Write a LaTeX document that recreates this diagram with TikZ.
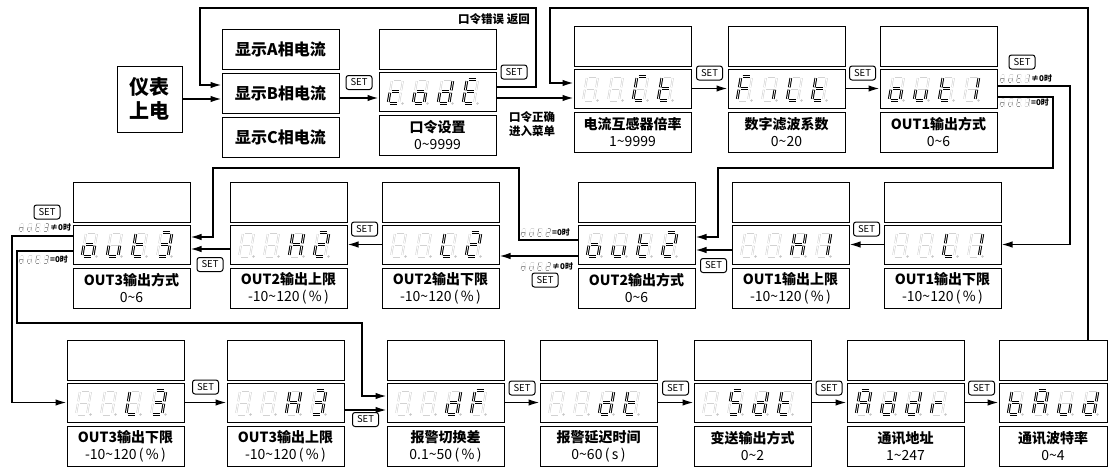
\documentclass[tikz,border=0pt]{standalone}
\usepackage{fontspec}
\setmainfont{Noto Sans CJK SC}
\usetikzlibrary{arrows.meta,positioning}

% seven segment pieces, origin at the lower left corner of a digit
\def\sega{(1.6,-24)--(9.4,-24)}
\def\segb{(11,-22.4)--(11,-13.2)}
\def\segc{(11,-10.8)--(11,-1.6)}
\def\segd{(1.6,0)--(9.4,0)}
\def\sege{(0,-10.8)--(0,-1.6)}
\def\segf{(0,-22.4)--(0,-13.2)}
\def\segg{(1.6,-12)--(9.4,-12)}
\def\segx{}

\newcommand\segdisp[3][1]{%
  \begin{scope}[shift={#2}, scale=#1]
    \foreach \segs [count=\k] in {#3} {
      \begin{scope}[shift={({(\k-1)*25},0)}, xslant=0.17]
        \foreach \s in {a,b,c,d,e,f,g}
          {\edef\tmp{\noexpand\draw[segoff] \csname seg\s\endcsname;}\tmp}
        \foreach \s in \segs
          {\edef\tmp{\noexpand\draw[segon] \csname seg\s\endcsname;}\tmp}
        \fill[segdot] (14.5,0) circle (1.3);
      \end{scope}
    }
  \end{scope}}

% one menu item: empty box, display, name and range
\newcommand\menuunit[7][117]{%
  \node[topbox, minimum width=#1pt] (#2-t) at (#3+#1/2,#4+20) {};
  \node[dispbox, minimum width=#1pt] (#2) at (#3+#1/2,#4+62.5) {};
  \node[namebox, minimum width=#1pt] (#2-b) at (#3+#1/2,#4+106) {#6\\{\mdseries #7}};
  \segdisp{(#3+9,#4+74.5)}{#5}}

\begin{document}
\begin{tikzpicture}[
    x=1pt, y=-1pt,
    box/.style={draw, line width=1pt, inner sep=0pt, minimum width=117pt},
    topbox/.style={box, minimum height=40pt},
    dispbox/.style={box, minimum height=39pt},
    namebox/.style={box, minimum height=40pt, align=center,
        font=\fontsize{14}{17}\selectfont\bfseries},
    showbox/.style={box, minimum height=40pt,
        font=\fontsize{16}{18}\selectfont\bfseries},
    segoff/.style={draw=gray!35, line width=0.6pt, double=white, double distance=0.8pt},
    segon/.style={draw=black, line width=1pt, double=white, double distance=0.7pt},
    segdot/.style={fill=gray!45},
    tinyseg/.style={
        segoff/.style={draw=gray!30, line width=0.3pt},
        segon/.style={draw=gray!85, line width=0.7pt},
        segdot/.style={fill=gray!50}},
    setlbl/.style={draw, rounded corners=2.5pt, line width=1pt, inner sep=1pt,
        minimum width=26pt, minimum height=14pt, font=\fontsize{9.5}{10}\selectfont},
    cond/.style={font=\fontsize{8}{9}\selectfont\bfseries, inner sep=0pt, anchor=west},
    note/.style={font=\fontsize{11.5}{14}\selectfont\bfseries, align=center, inner sep=0pt},
    arr/.style={-{Latex[length=11pt,width=6.5pt]}, line width=1.5pt}
]
    \useasboundingbox (0,0) rectangle (1109,467);

    % start
    \node[box, minimum width=65pt, minimum height=66pt, align=center,
        font=\fontsize{20}{24}\selectfont\bfseries] (power) at (149.5,99) {仪表\\上电};
    \node[showbox] (showA) at (280.5,49) {显示A相电流};
    \node[showbox, below=3pt of showA] (showB) {显示B相电流};
    \node[showbox, below=3pt of showB] (showC) {显示C相电流};

    % first row
    \menuunit{code}{379}{29}{{d,e,g},{c,d,e,g},{b,c,d,e,g},{a,d,e,f,g}}
        {口令设置}{0\textasciitilde9999}
    \menuunit{CT}{574}{26}{x,x,{a,d,e,f},{d,e,f,g}}
        {电流互感器倍率}{1\textasciitilde9999}
    \menuunit{FILT}{728}{26}{{a,e,f,g},c,{d,e,f},{d,e,f,g}}
        {数字滤波系数}{0\textasciitilde20}
    \menuunit{out1}{880}{26}{{c,d,e,g},{c,d,e},{d,e,f,g},{b,c}}
        {OUT1输出方式}{0\textasciitilde6}

    % second row
    \menuunit{out3}{73}{182}{{c,d,e,g},{c,d,e},{d,e,f,g},{a,b,c,d,g}}
        {OUT3输出方式}{0\textasciitilde6}
    \menuunit{H2}{230}{182}{x,x,{b,c,e,f,g},{a,b,d,e,g}}
        {OUT2输出上限}{-10\textasciitilde120\,(\,\%\,)}
    \menuunit{L2}{382}{182}{x,x,{d,e,f},{a,b,d,e,g}}
        {OUT2输出下限}{-10\textasciitilde120\,(\,\%\,)}
    \menuunit{out2}{578}{182}{{c,d,e,g},{c,d,e},{d,e,f,g},{a,b,d,e,g}}
        {OUT2输出方式}{0\textasciitilde6}
    \menuunit{H1}{732}{182}{x,x,{b,c,e,f,g},{b,c}}
        {OUT1输出上限}{-10\textasciitilde120\,(\,\%\,)}
    \menuunit{L1}{884}{182}{x,x,{d,e,f},{b,c}}
        {OUT1输出下限}{-10\textasciitilde120\,(\,\%\,)}

    % third row
    \menuunit{L3}{67}{340}{x,x,{d,e,f},{a,b,c,d,g}}
        {OUT3输出下限}{-10\textasciitilde120\,(\,\%\,)}
    \menuunit{H3}{227}{340}{x,x,{b,c,e,f,g},{a,b,c,d,g}}
        {OUT3输出上限}{-10\textasciitilde120\,(\,\%\,)}
    \menuunit{dF}{387}{340}{x,x,{b,c,d,e,g},{a,e,f,g}}
        {报警切换差}{0.1\textasciitilde50\,(\,\%\,)}
    \menuunit{dt}{540}{340}{x,x,{b,c,d,e,g},{d,e,f,g}}
        {报警延迟时间}{0\textasciitilde60\,(\,s\,)}
    \menuunit{Sdt}{694}{340}{x,{a,c,d,f,g},{b,c,d,e,g},{d,e,f,g}}
        {变送输出方式}{0\textasciitilde2}
    \menuunit{Addr}{847}{340}{{a,b,c,e,f,g},{b,c,d,e,g},{b,c,d,e,g},{e,g}}
        {通讯地址}{1\textasciitilde247}
    \menuunit[108]{bAud}{999}{340}{{c,d,e,f,g},{a,b,c,e,f,g},{c,d,e},{b,c,d,e,g}}
        {通讯波特率}{0\textasciitilde4}

    % corners of the long connectors
    \coordinate (e1) at (536,8);
    \coordinate (e2) at (200,8);
    \coordinate (l1) at (1088,8);
    \coordinate (l2) at (550,8);
    \coordinate (r1) at (1070,0);
    \coordinate (r2) at (1053,168);
    \coordinate (r3) at (718,168);
    \coordinate (r4) at (519,168);
    \coordinate (r5) at (213,168);
    \coordinate (r6) at (12,0);
    \coordinate (r7) at (17,323);
    \coordinate (r8) at (362,323);

    % power on and password
    \draw[arr] (power) -- (power -| showB.west);
    \coordinate (bo) at ([yshift=-5pt]showB.east);
    \draw[arr] (bo) -- node[setlbl, above=8pt] (set0) {SET} (bo -| code.west);
    \draw[arr] ([yshift=4.5pt]code.east) -| (e1) -- (e2) |- ([yshift=8pt]showB.west);
    \node[note] (errlbl) at (494,19) {口令错误\ 返回};
    \node[setlbl] (setc) at (514,72) {SET};
    \coordinate (co) at ([yshift=-6.5pt]code.east);
    \draw[arr] (co) -- (co -| CT.west);
    \node[note] (oklbl) at (532,124) {口令正确\\进入菜单};
    \draw[arr] (l1 |- bAud-t.north) -- (l1) -- (l2) |- ([yshift=5.5pt]CT.west);

    % first row
    \draw[arr] (CT) -- node[setlbl, above=8pt] (set1) {SET} (FILT);
    \draw[arr] (FILT) -- node[setlbl, above=8pt] (set2) {SET} (out1);
    \node[setlbl] (set3) at (1022,62) {SET};
    \draw[arr] ([yshift=2.5pt]out1.east) -| (r1 |- L1.east) -- (L1.east);
    \draw[arr] ([yshift=-8.5pt]out1.east) -| (r2) -- (r3) |- ([yshift=7.5pt]out2.east);
    \begin{scope}[tinyseg]
        \segdisp[0.33]{(1000,82)}{{c,d,e,g},{c,d,e},{d,e,f,g},{b,c}}
        \segdisp[0.33]{(1000,106)}{{c,d,e,g},{c,d,e},{d,e,f,g},{b,c}}
    \end{scope}
    \node[cond] (c1a) at (1031,78) {≠0时};
    \node[cond] (c1b) at (1031,102) {=0时};

    % second row
    \draw[arr] (L1) -- node[setlbl, above=8pt] (set4) {SET} (H1);
    \coordinate (h1o) at ([yshift=-5.5pt]H1.west);
    \draw[arr] (h1o) -- node[setlbl, below=8pt] (set5) {SET} (h1o -| out2.east);
    \coordinate (o2l) at ([yshift=-11.5pt]out2.west);
    \draw[arr] (o2l) -- (o2l -| L2.east);
    \node[setlbl] (set6) at (545,280) {SET};
    \draw[arr] ([yshift=4.5pt]out2.west) -| (r4) -- (r5) |- ([yshift=7.5pt]out3.east);
    \begin{scope}[tinyseg]
        \segdisp[0.33]{(521,236)}{{c,d,e,g},{c,d,e},{d,e,f,g},{a,b,d,e,g}}
        \segdisp[0.33]{(521,270)}{{c,d,e,g},{c,d,e},{d,e,f,g},{a,b,d,e,g}}
    \end{scope}
    \node[cond] (c2a) at (552,232) {=0时};
    \node[cond] (c2b) at (552,266) {≠0时};
    \draw[arr] (L2) -- node[setlbl, above=8pt] (set7) {SET} (H2);
    \coordinate (h2o) at ([yshift=-4.5pt]H2.west);
    \draw[arr] (h2o) -- node[setlbl, below=8pt] (set8) {SET} (h2o -| out3.east);
    \node[setlbl] (set9) at (47,212) {SET};
    \draw[arr] ([yshift=8.5pt]out3.west) -| (r6 |- L3.west) -- (L3.west);
    \draw[arr] ([yshift=-6.5pt]out3.west) -| (r7) -- (r8) |- ([yshift=6.5pt]dF.west);
    \begin{scope}[tinyseg]
        \segdisp[0.33]{(19,231)}{{c,d,e,g},{c,d,e},{d,e,f,g},{a,b,c,d,g}}
        \segdisp[0.33]{(19,263)}{{c,d,e,g},{c,d,e},{d,e,f,g},{a,b,c,d,g}}
    \end{scope}
    \node[cond] (c3a) at (50,227) {≠0时};
    \node[cond] (c3b) at (50,259) {=0时};

    % third row
    \draw[arr] (L3) -- node[setlbl, above=8pt] (set10) {SET} (H3);
    \coordinate (h3o) at ([yshift=-7.5pt]H3.east);
    \draw[arr] (h3o) -- node[setlbl, below=2pt] (set11) {SET} (h3o -| dF.west);
    \draw[arr] (dF) -- node[setlbl, above=7pt] (set12) {SET} (dt);
    \draw[arr] (dt) -- node[setlbl, above=7pt] (set13) {SET} (Sdt);
    \draw[arr] (Sdt) -- node[setlbl, above=7pt] (set14) {SET} (Addr);
    \draw[arr] (Addr) -- node[setlbl, above=7pt] (set15) {SET} (bAud);
\end{tikzpicture}
\end{document}
